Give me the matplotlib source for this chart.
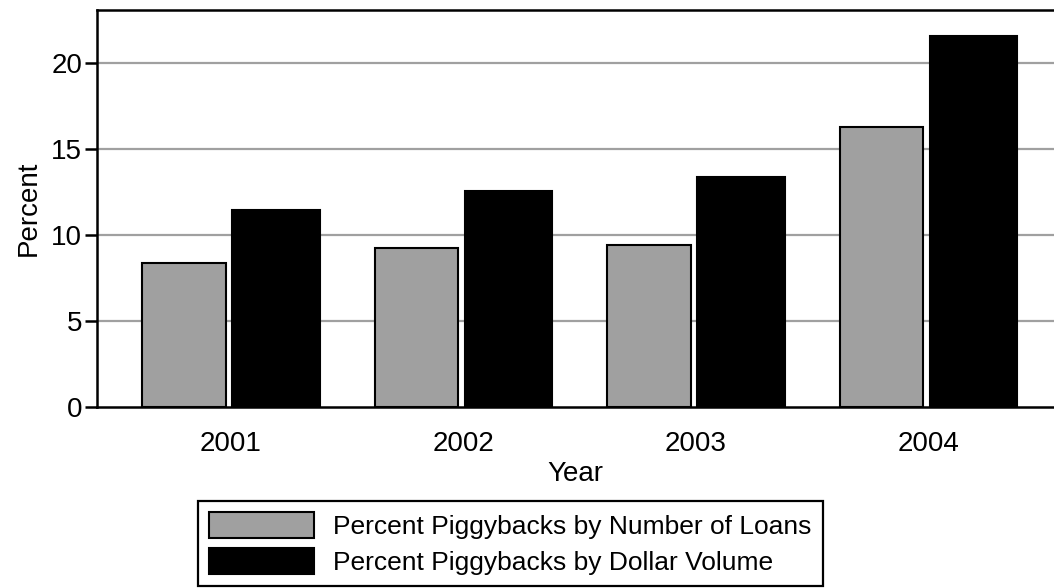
import matplotlib
matplotlib.use('Agg')
import matplotlib.pyplot as plt
import numpy as np

plt.rcParams['font.family'] = ['Liberation Sans', 'DejaVu Sans']

years = ['2001', '2002', '2003', '2004']
by_loans = [8.35, 9.28, 9.42, 16.29]
by_volume = [11.46, 12.58, 13.36, 21.61]
legend_labels = ['Percent Piggybacks by Number of Loans',
                 'Percent Piggybacks by Dollar Volume']

fig = plt.figure(figsize=(10.54, 5.88), dpi=100)
ax = fig.add_axes([97 / 1054, 1 - 407 / 588, 1 - 97 / 1054, 397 / 588])

x = np.arange(len(years))
# 繪製長條圖
b1 = ax.bar(x - 0.2017, by_loans, width=0.358, color='#a0a0a0',
            edgecolor='black', linewidth=1.5, zorder=3)
b2 = ax.bar(x + 0.194, by_volume, width=0.375, color='black',
            edgecolor='black', linewidth=1.5, zorder=3)

ax.set_xlim(-0.576, 3.54)
ax.set_ylim(0, 23.1)
ax.set_yticks([0, 5, 10, 15, 20])
ax.set_xticks(x)
ax.set_xticklabels(years)

# 格線與座標軸
for v in [5, 10, 15, 20]:
    ax.axhline(v, color='#a0a0a0', linewidth=1.6, zorder=1)
ax.spines['right'].set_visible(False)
for s in ['left', 'top', 'bottom']:
    ax.spines[s].set_linewidth(1.8)
    ax.spines[s].set_zorder(4)
ax.tick_params(axis='y', length=8.6, width=1.8, labelsize=20, pad=2)
ax.tick_params(axis='x', length=0, labelsize=20, pad=17)

ax.set_xlabel('Year', fontsize=20, labelpad=3)
ax.set_ylabel('Percent', fontsize=20, labelpad=7)

leg = fig.legend([b1, b2], legend_labels, loc='upper left',
                 bbox_to_anchor=(198 / 1054, 1 - 500.7 / 588),
                 bbox_transform=fig.transFigure, borderaxespad=0,
                 fontsize=19, handlelength=3.98, handleheight=1.14,
                 labelspacing=0.34, handletextpad=0.72, borderpad=0.42,
                 fancybox=False, framealpha=1, edgecolor='black')
leg.get_frame().set_linewidth(1.6)

fig.savefig('out.png', dpi=100)
